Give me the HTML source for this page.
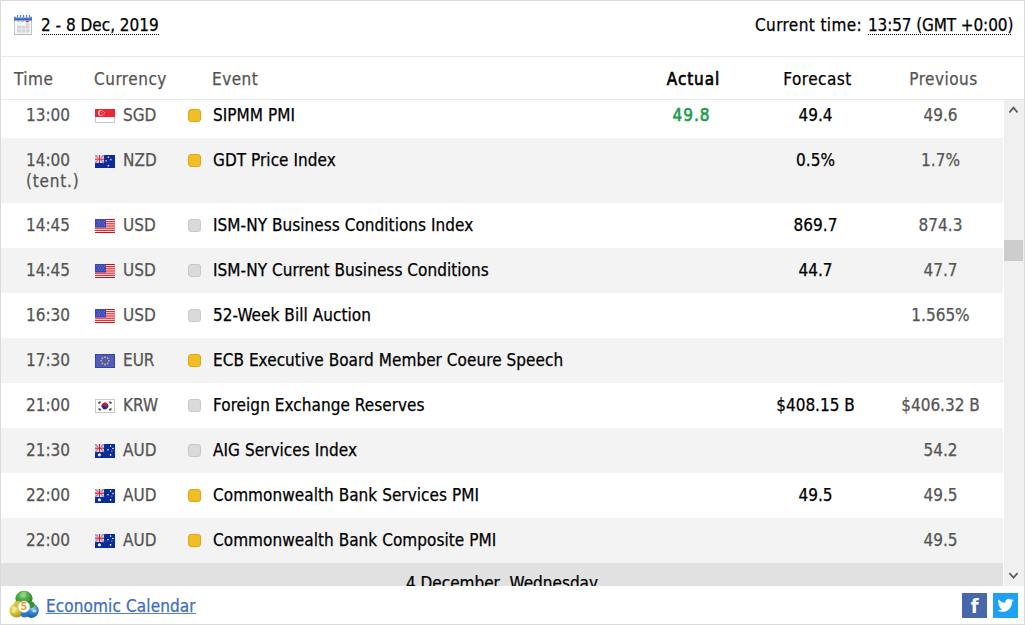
<!DOCTYPE html>
<html lang="en"><head><meta charset="utf-8"><title>Economic Calendar</title>
<style>
*{margin:0;padding:0;box-sizing:border-box}
html,body{width:1025px;height:625px;overflow:hidden;background:#fff}
body{position:relative;-webkit-text-stroke:0.25px;font-family:"DejaVu Sans Condensed","DejaVu Sans","Liberation Sans",sans-serif;font-size:17px;line-height:20px;color:#000}
.a{position:absolute}
.frame{left:0;top:0;width:1025px;height:625px;border:1px solid #dadada}
.hl{left:1px;width:1023px;height:1px;background:#e9e9e9}
.t{position:absolute;white-space:nowrap}
.dots{position:absolute;height:1px;background:repeating-linear-gradient(to right,#000 0 1px,transparent 1px 2px)}
.th{color:#555}
.hd{letter-spacing:.5px}
.body{left:1px;top:100px;width:1003px;height:486px;overflow:hidden}
.row{position:absolute;left:0;width:1002px;height:45px;background:#fff}
.row.g{background:#f3f3f3}
.row .t{top:12px}
.tm{left:25px;color:#555}
.fl{position:absolute;left:94px;top:16px;width:20px;height:14px}
.cur{left:122px;color:#555}
.imp{position:absolute;left:187px;top:16px;width:13px;height:13px;border-radius:3px;border:1px solid #c9c9c9;background:#dadada}
.imp.y{border-color:#e2a90c;background:#f1bd28}
.ev{left:212px;letter-spacing:.05px}
.c{text-align:center;width:125px}
.ac{left:628px;color:#1c9c4c;-webkit-text-stroke:0.6px;letter-spacing:1px}
.fc{left:752px}
.pv{left:877px;color:#555}
.day{position:absolute;left:0;width:1002px;height:45px;background:#e1e1e1;text-align:center}
.sb{left:1004px;top:100px;width:20px;height:486px;background:#f0f0f0}
</style></head><body>
<div class="a frame"></div>

<!-- top bar -->
<svg class="a" style="left:14px;top:15px" width="18" height="20" viewBox="0 0 18 20">
 <defs><linearGradient id="cb" x1="0" y1="0" x2="0" y2="1"><stop offset="0" stop-color="#6a94dc"/><stop offset="1" stop-color="#2857ad"/></linearGradient></defs>
 <rect x="0.5" y="4.5" width="17" height="15" rx="1" fill="#f6f8fb" stroke="#c2c4c7"/>
 <rect x="0" y="19" width="18" height="1" fill="#b4b6b9"/>
 <rect x="0" y="1.7" width="18" height="3.8" fill="url(#cb)"/>
 <rect x="2" y="0" width="14" height="2.6" fill="#e4e9f3"/>
 <g fill="#5b7fc2"><rect x="3" y="0" width="1" height="2.6"/><rect x="6" y="0" width="1" height="2.6"/><rect x="9" y="0" width="1" height="2.6"/><rect x="12" y="0" width="1" height="2.6"/><rect x="15" y="0" width="1" height="2.6"/></g>
 <rect x="3.5" y="6" width="2" height="1" fill="#aaacaf"/><rect x="7.5" y="6" width="2" height="1" fill="#aaacaf"/>
 <rect x="11.8" y="5.8" width="2.9" height="1.4" rx=".5" fill="#e8302a"/>
 <rect x="3" y="10.6" width="12.6" height="7" fill="#d4d6d9"/><rect x="11.5" y="8.4" width="4.1" height="2.2" fill="#d4d6d9"/>
 <g fill="#eef0f3"><rect x="3" y="13.5" width="12.6" height=".7"/><rect x="7" y="10.6" width=".7" height="7"/><rect x="11.2" y="8.4" width=".7" height="9.2"/><rect x="11.5" y="10.4" width="4.1" height=".5"/></g>
</svg>
<div class="t" style="left:41px;top:15px">2 - 8 Dec, 2019</div>
<div class="dots" style="left:42px;top:34px;width:117px"></div>
<div class="t" style="left:755px;top:15px;letter-spacing:.4px">Current time:</div>
<div class="t" style="left:868px;top:15px;letter-spacing:-.12px">13:57 (GMT +0:00)</div>
<div class="dots" style="left:868px;top:34px;width:144px"></div>
<div class="a hl" style="top:56px"></div>

<!-- column headers -->
<div class="t th hd" style="left:14px;top:69px">Time</div>
<div class="t th hd" style="left:94px;top:69px">Currency</div>
<div class="t th hd" style="left:212px;top:69px">Event</div>
<div class="t c" style="left:631px;top:69px;-webkit-text-stroke:0.6px;letter-spacing:.9px">Actual</div>
<div class="t c hd" style="left:755px;top:69px">Forecast</div>
<div class="t c th hd" style="left:881px;top:69px">Previous</div>
<div class="a hl" style="top:99px"></div>

<!-- body -->
<div class="a body">
 <div class="row" style="top:-7px">
  <div class="t tm">13:00</div>
  <svg class="fl"viewBox="0 0 20 14"><rect width="20" height="8" fill="#ee2436"/><rect y="8" width="20" height="6" fill="#fff"/><path d="M0.5 8v5.5h19V8" fill="none" stroke="#c8c8c8"/><circle cx="6" cy="3.9" r="2.9" fill="#fff"/><circle cx="7.1" cy="3.9" r="2.7" fill="#ee2436"/><g fill="#f7b5bb"><circle cx="8.2" cy="2.2" r=".5"/><circle cx="9.6" cy="3.3" r=".5"/><circle cx="9" cy="5.2" r=".5"/><circle cx="7.2" cy="5.2" r=".5"/><circle cx="6.8" cy="3.3" r=".5"/></g></svg>
  <div class="t cur">SGD</div>
  <div class="imp y"></div>
  <div class="t ev">SIPMM PMI</div>
  <div class="t c ac">49.8</div>
  <div class="t c fc">49.4</div>
  <div class="t c pv">49.6</div>
 </div>
 <div class="row g" style="top:38px;height:65px">
  <div class="t tm">14:00<br><span style="letter-spacing:.8px;position:relative;top:1px">(tent.)</span></div>
  <svg class="fl"style="top:17px;height:13px" viewBox="0 0 20 13"><rect width="20" height="13" fill="#0b2c98"/><rect width="9" height="8" fill="#d4d3e6"/><path d="M0 0L9 8M9 0L0 8" stroke="#8a98d2" stroke-width="1.4"/><rect x="0" y="3" width="9" height="2" fill="#fff"/><rect x="3.3" y="0" width="2.2" height="8" fill="#fff"/><rect x="0" y="3.5" width="9" height="1.3" fill="#f0202f"/><rect x="3.8" y="0" width="1.3" height="8" fill="#f0202f"/><g fill="#eab2c2"><circle cx="13.4" cy="2.2" r=".85"/><circle cx="15.9" cy="4.6" r=".85"/><circle cx="11.1" cy="5.8" r=".85"/><circle cx="13.4" cy="10.7" r=".95"/></g></svg>
  <div class="t cur">NZD</div>
  <div class="imp y"></div>
  <div class="t ev">GDT Price Index</div>
  <div class="t c fc">0.5%</div>
  <div class="t c pv">1.7%</div>
 </div>
 <div class="row" style="top:103px">
  <div class="t tm">14:45</div>
  <svg class="fl"viewBox="0 0 20 14"><rect width="20" height="14" fill="#fff"/><g fill="#d40e14"><rect y="0" width="20" height="1.1"/><rect y="2.15" width="20" height="1.1"/><rect y="4.3" width="20" height="1.1"/><rect y="6.45" width="20" height="1.1"/><rect y="8.6" width="20" height="1.1"/><rect y="10.75" width="20" height="1.1"/><rect y="12.9" width="20" height="1.1"/></g><rect width="11" height="8.5" fill="#3b46b4"/><g fill="#9aa3e0"><circle cx="2" cy="2" r=".5"/><circle cx="4.5" cy="2" r=".5"/><circle cx="7" cy="2" r=".5"/><circle cx="9.3" cy="2" r=".5"/><circle cx="3.2" cy="4" r=".5"/><circle cx="5.7" cy="4" r=".5"/><circle cx="8.2" cy="4" r=".5"/><circle cx="2" cy="6" r=".5"/><circle cx="4.5" cy="6" r=".5"/><circle cx="7" cy="6" r=".5"/><circle cx="9.3" cy="6" r=".5"/></g></svg>
  <div class="t cur">USD</div>
  <div class="imp"></div>
  <div class="t ev">ISM-NY Business Conditions Index</div>
  <div class="t c fc">869.7</div>
  <div class="t c pv">874.3</div>
 </div>
 <div class="row g" style="top:148px">
  <div class="t tm">14:45</div>
  <svg class="fl"viewBox="0 0 20 14"><rect width="20" height="14" fill="#fff"/><g fill="#d40e14"><rect y="0" width="20" height="1.1"/><rect y="2.15" width="20" height="1.1"/><rect y="4.3" width="20" height="1.1"/><rect y="6.45" width="20" height="1.1"/><rect y="8.6" width="20" height="1.1"/><rect y="10.75" width="20" height="1.1"/><rect y="12.9" width="20" height="1.1"/></g><rect width="11" height="8.5" fill="#3b46b4"/><g fill="#9aa3e0"><circle cx="2" cy="2" r=".5"/><circle cx="4.5" cy="2" r=".5"/><circle cx="7" cy="2" r=".5"/><circle cx="9.3" cy="2" r=".5"/><circle cx="3.2" cy="4" r=".5"/><circle cx="5.7" cy="4" r=".5"/><circle cx="8.2" cy="4" r=".5"/><circle cx="2" cy="6" r=".5"/><circle cx="4.5" cy="6" r=".5"/><circle cx="7" cy="6" r=".5"/><circle cx="9.3" cy="6" r=".5"/></g></svg>
  <div class="t cur">USD</div>
  <div class="imp"></div>
  <div class="t ev">ISM-NY Current Business Conditions</div>
  <div class="t c fc">44.7</div>
  <div class="t c pv">47.7</div>
 </div>
 <div class="row" style="top:193px">
  <div class="t tm">16:30</div>
  <svg class="fl"viewBox="0 0 20 14"><rect width="20" height="14" fill="#fff"/><g fill="#d40e14"><rect y="0" width="20" height="1.1"/><rect y="2.15" width="20" height="1.1"/><rect y="4.3" width="20" height="1.1"/><rect y="6.45" width="20" height="1.1"/><rect y="8.6" width="20" height="1.1"/><rect y="10.75" width="20" height="1.1"/><rect y="12.9" width="20" height="1.1"/></g><rect width="11" height="8.5" fill="#3b46b4"/><g fill="#9aa3e0"><circle cx="2" cy="2" r=".5"/><circle cx="4.5" cy="2" r=".5"/><circle cx="7" cy="2" r=".5"/><circle cx="9.3" cy="2" r=".5"/><circle cx="3.2" cy="4" r=".5"/><circle cx="5.7" cy="4" r=".5"/><circle cx="8.2" cy="4" r=".5"/><circle cx="2" cy="6" r=".5"/><circle cx="4.5" cy="6" r=".5"/><circle cx="7" cy="6" r=".5"/><circle cx="9.3" cy="6" r=".5"/></g></svg>
  <div class="t cur">USD</div>
  <div class="imp"></div>
  <div class="t ev">52-Week Bill Auction</div>
  <div class="t c pv">1.565%</div>
 </div>
 <div class="row g" style="top:238px">
  <div class="t tm">17:30</div>
  <svg class="fl"viewBox="0 0 20 14"><rect width="20" height="14" fill="#3a44a0"/><rect x="1" y="1" width="18" height="12" fill="#4f5cba"/><g fill="#e8b74a"><circle cx="10" cy="3.2" r=".9"/><circle cx="12.6" cy="4.1" r=".85"/><circle cx="13.8" cy="6.6" r=".85"/><circle cx="12.6" cy="9.3" r=".85"/><circle cx="10" cy="10.5" r=".9"/><circle cx="7.4" cy="9.3" r=".85"/><circle cx="6.2" cy="6.6" r=".85"/><circle cx="7.4" cy="4.1" r=".85"/></g></svg>
  <div class="t cur">EUR</div>
  <div class="imp y"></div>
  <div class="t ev">ECB Executive Board Member Coeure Speech</div>
 </div>
 <div class="row" style="top:283px">
  <div class="t tm">21:00</div>
  <svg class="fl"viewBox="0 0 20 14"><rect x=".5" y=".5" width="19" height="13" fill="#fcfcfc" stroke="#c9c9c9"/><g transform="rotate(-35 10 7)"><circle cx="10" cy="7" r="3.3" fill="#1b3291"/><path d="M6.7 7a3.3 3.3 0 0 1 6.6 0a1.65 1.65 0 0 1 -3.3 0a1.65 1.65 0 0 0 -3.3 0z" fill="#d51a35"/></g><g fill="#464646"><ellipse cx="4.5" cy="3.6" rx="1.5" ry="1" transform="rotate(-35 4.5 3.6)"/><ellipse cx="15.4" cy="3.6" rx="1.5" ry="1" transform="rotate(35 15.4 3.6)"/><ellipse cx="4.6" cy="10.4" rx="1.5" ry="1" transform="rotate(35 4.6 10.4)"/><ellipse cx="15.4" cy="10.4" rx="1.5" ry="1" transform="rotate(-35 15.4 10.4)"/></g></svg>
  <div class="t cur">KRW</div>
  <div class="imp"></div>
  <div class="t ev">Foreign Exchange Reserves</div>
  <div class="t c fc">$408.15 B</div>
  <div class="t c pv">$406.32 B</div>
 </div>
 <div class="row g" style="top:328px">
  <div class="t tm">21:30</div>
  <svg class="fl" viewBox="0 0 20 14"><rect width="20" height="14" fill="#0b2c98"/><rect width="9" height="8" fill="#d4d3e6"/><path d="M0 0L9 8M9 0L0 8" stroke="#8a98d2" stroke-width="1.4"/><rect x="0" y="3" width="9" height="2" fill="#fff"/><rect x="3.3" y="0" width="2.2" height="8" fill="#fff"/><rect x="0" y="3.5" width="9" height="1.3" fill="#e0141f"/><rect x="3.8" y="0" width="1.3" height="8" fill="#e0141f"/><g fill="#f4f4fb"><circle cx="4.4" cy="10.8" r="1.6"/><circle cx="15.6" cy="2.1" r=".8"/><circle cx="18" cy="4.5" r=".8"/><circle cx="13" cy="5.8" r=".8"/><circle cx="16.9" cy="6.9" r=".5"/><circle cx="15.6" cy="10.8" r=".85"/></g></svg>
  <div class="t cur">AUD</div>
  <div class="imp"></div>
  <div class="t ev">AIG Services Index</div>
  <div class="t c pv">54.2</div>
 </div>
 <div class="row" style="top:373px">
  <div class="t tm">22:00</div>
  <svg class="fl" viewBox="0 0 20 14"><rect width="20" height="14" fill="#0b2c98"/><rect width="9" height="8" fill="#d4d3e6"/><path d="M0 0L9 8M9 0L0 8" stroke="#8a98d2" stroke-width="1.4"/><rect x="0" y="3" width="9" height="2" fill="#fff"/><rect x="3.3" y="0" width="2.2" height="8" fill="#fff"/><rect x="0" y="3.5" width="9" height="1.3" fill="#e0141f"/><rect x="3.8" y="0" width="1.3" height="8" fill="#e0141f"/><g fill="#f4f4fb"><circle cx="4.4" cy="10.8" r="1.6"/><circle cx="15.6" cy="2.1" r=".8"/><circle cx="18" cy="4.5" r=".8"/><circle cx="13" cy="5.8" r=".8"/><circle cx="16.9" cy="6.9" r=".5"/><circle cx="15.6" cy="10.8" r=".85"/></g></svg>
  <div class="t cur">AUD</div>
  <div class="imp y"></div>
  <div class="t ev">Commonwealth Bank Services PMI</div>
  <div class="t c fc">49.5</div>
  <div class="t c pv">49.5</div>
 </div>
 <div class="row g" style="top:418px">
  <div class="t tm">22:00</div>
  <svg class="fl" viewBox="0 0 20 14"><rect width="20" height="14" fill="#0b2c98"/><rect width="9" height="8" fill="#d4d3e6"/><path d="M0 0L9 8M9 0L0 8" stroke="#8a98d2" stroke-width="1.4"/><rect x="0" y="3" width="9" height="2" fill="#fff"/><rect x="3.3" y="0" width="2.2" height="8" fill="#fff"/><rect x="0" y="3.5" width="9" height="1.3" fill="#e0141f"/><rect x="3.8" y="0" width="1.3" height="8" fill="#e0141f"/><g fill="#f4f4fb"><circle cx="4.4" cy="10.8" r="1.6"/><circle cx="15.6" cy="2.1" r=".8"/><circle cx="18" cy="4.5" r=".8"/><circle cx="13" cy="5.8" r=".8"/><circle cx="16.9" cy="6.9" r=".5"/><circle cx="15.6" cy="10.8" r=".85"/></g></svg>
  <div class="t cur">AUD</div>
  <div class="imp y"></div>
  <div class="t ev">Commonwealth Bank Composite PMI</div>
  <div class="t c pv">49.5</div>
 </div>
 <div class="day" style="top:463px"><div style="padding-top:10px">4 December, Wednesday</div></div>
</div>

<div class="a sb"></div>
<svg class="a" style="left:1004px;top:100px" width="20" height="20" viewBox="0 0 20 20"><polyline points="5.4,12.5 9.5,7.6 13.6,12.5" fill="none" stroke="#555" stroke-width="1.7"/></svg>
<div class="a" style="left:1004px;top:240px;width:19px;height:21px;background:#cdcdcd"></div>
<svg class="a" style="left:1004px;top:565px" width="20" height="20" viewBox="0 0 20 20"><polyline points="5.4,8 9.5,12.8 13.6,8" fill="none" stroke="#555" stroke-width="1.7"/></svg>

<!-- footer -->
<svg class="a" style="left:8px;top:589px" width="32" height="32" viewBox="0 0 32 32">
 <defs>
  <radialGradient id="gG" cx="45%" cy="30%" r="65%"><stop offset="0" stop-color="#b9e3a8"/><stop offset=".35" stop-color="#5cb64f"/><stop offset="1" stop-color="#2b7d25"/></radialGradient>
  <radialGradient id="gY" cx="35%" cy="35%" r="70%"><stop offset="0" stop-color="#f7f0a8"/><stop offset=".4" stop-color="#dccb3c"/><stop offset="1" stop-color="#a3931a"/></radialGradient>
  <radialGradient id="gB" cx="60%" cy="35%" r="70%"><stop offset="0" stop-color="#a5d4f6"/><stop offset=".4" stop-color="#3a8ad6"/><stop offset="1" stop-color="#17589f"/></radialGradient>
 </defs>
 <circle cx="8.6" cy="21.4" r="7.1" fill="url(#gY)"/>
 <circle cx="23.4" cy="21.6" r="7.3" fill="url(#gB)"/>
 <ellipse cx="16" cy="9.2" rx="8.6" ry="7.4" fill="url(#gG)"/>
 <circle cx="16.5" cy="25" r="3.6" fill="#2a78c8"/>
 <circle cx="9.6" cy="15.2" r="3.4" fill="#d3c33a"/>
 <circle cx="23.2" cy="15.8" r="3.2" fill="#3d8f35"/>
 <circle cx="16" cy="4.6" r="2.4" fill="#8fcf80" opacity=".8"/>
 <circle cx="5.5" cy="22.5" r="1.6" fill="#f5eeb0" opacity=".8"/>
 <ellipse cx="26.5" cy="22" rx="2.2" ry="1.4" fill="#cfe8fb" opacity=".8"/>
 <circle cx="16" cy="17.7" r="5.7" fill="#fbfbf8" stroke="#dcdcd4" stroke-width=".6"/>
 <text x="16" y="21.3" text-anchor="middle" font-family="DejaVu Sans Condensed, DejaVu Sans, sans-serif" font-weight="bold" font-size="11" fill="#f0a33a" style="-webkit-text-stroke:0">5</text>
</svg>
<div class="t" style="left:46px;top:596px;color:#3e6cc1;letter-spacing:.12px">Economic Calendar</div>
<div class="a" style="left:46px;top:613px;width:150px;height:1px;background:#5a82c9"></div>
<svg class="a" style="left:962px;top:593px" width="25" height="25" viewBox="0 0 25 25"><rect width="25" height="25" fill="#4866ab"/><text x="12.6" y="20" text-anchor="middle" font-family="DejaVu Sans Condensed, DejaVu Sans, sans-serif" font-weight="bold" font-size="20" fill="#fff" style="-webkit-text-stroke:0">f</text></svg>
<svg class="a" style="left:993px;top:593px" width="25" height="25" viewBox="0 0 25 25"><rect width="25" height="25" fill="#1da1f2"/><path transform="translate(4.5 4.3) scale(0.67)" fill="#fff" d="M23.953 4.57a10 10 0 01-2.825.775 4.958 4.958 0 002.163-2.723c-.951.555-2.005.959-3.127 1.184a4.92 4.92 0 00-8.384 4.482C7.69 8.095 4.067 6.13 1.64 3.162a4.822 4.822 0 00-.666 2.475c0 1.71.87 3.213 2.188 4.096a4.904 4.904 0 01-2.228-.616v.06a4.923 4.923 0 003.946 4.827 4.996 4.996 0 01-2.212.085 4.936 4.936 0 004.604 3.417 9.867 9.867 0 01-6.102 2.105c-.39 0-.779-.023-1.17-.067a13.995 13.995 0 007.557 2.209c9.053 0 13.998-7.496 13.998-13.985 0-.21 0-.42-.015-.63A9.935 9.935 0 0024 4.59z"/></svg>
</body></html>
